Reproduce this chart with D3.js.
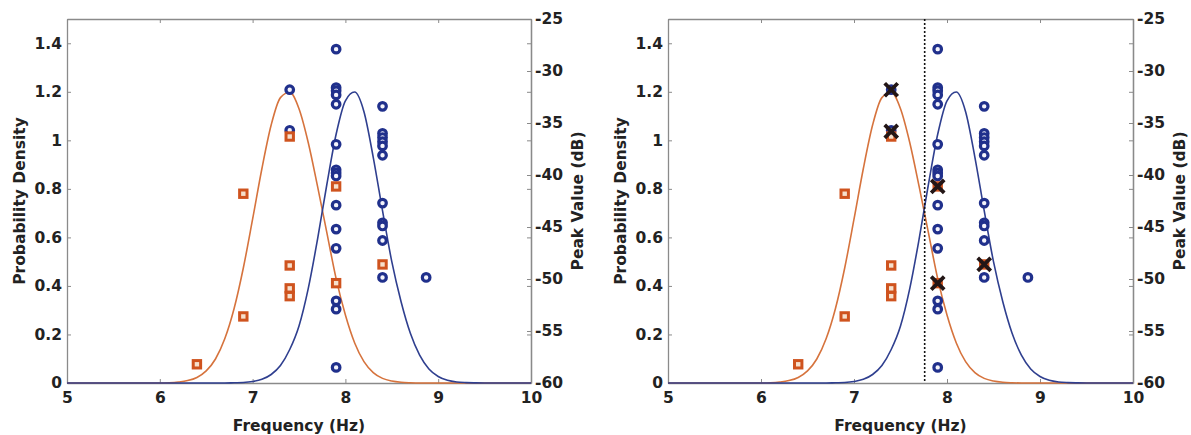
<!DOCTYPE html>
<html>
<head>
<meta charset="utf-8">
<script src="https://cdn.jsdelivr.net/npm/d3@7"></script>
<style>
  html, body { margin: 0; padding: 0; background: #fff; }
  svg { display: block; }
  text { font-family: "DejaVu Sans", "Liberation Sans", Arial, sans-serif; font-weight: bold; fill: #222; }
</style>
</head>
<body>
<svg id="chart" width="1191" height="435"></svg>
<script>
// ---------- data ----------
const freqTicks = [5, 6, 7, 8, 9, 10];
const densityTicks = [0, 0.2, 0.4, 0.6, 0.8, 1.0, 1.2, 1.4];
const densityLabels = ["0", "0.2", "0.4", "0.6", "0.8", "1", "1.2", "1.4"];
const peakTicks = [-25, -30, -35, -40, -45, -50, -55, -60];
const peakLabels = ["-25", "-30", "-35", "-40", "-45", "-50", "-55", "-60"];

// fitted density curves
const curveFreq = [5.0, 5.5, 6.0, 6.1, 6.2, 6.3, 6.4, 6.5, 6.6, 6.7, 6.8, 6.9, 7.0, 7.1, 7.2, 7.3, 7.4, 7.5, 7.6, 7.7, 7.8, 7.9, 8.0, 8.1, 8.2, 8.3, 8.4, 8.5, 8.6, 8.7, 8.8, 8.9, 9.0, 9.1, 9.2, 9.3, 9.4, 9.5, 10.0];
const orangeDensity = [0, 0, 0, 0.001, 0.004, 0.010, 0.023, 0.050, 0.099, 0.182, 0.306, 0.474, 0.675, 0.883, 1.063, 1.176, 1.198, 1.13, 0.99, 0.81, 0.62, 0.43, 0.28, 0.165, 0.088, 0.043, 0.019, 0.008, 0.003, 0.001, 0, 0, 0, 0, 0, 0, 0, 0, 0];
const blueDensity = [0, 0, 0, 0, 0, 0, 0, 0, 0, 0, 0.001, 0.002, 0.006, 0.015, 0.035, 0.072, 0.138, 0.235, 0.39, 0.593, 0.818, 1.025, 1.163, 1.199, 1.118, 0.93, 0.71, 0.50, 0.335, 0.205, 0.115, 0.058, 0.027, 0.011, 0.004, 0.0015, 0.0005, 0, 0];

// scatter: blue circles (frequency, peak dB)
const circleFreq = [7.4, 7.4,
  7.9, 7.9, 7.9, 7.9, 7.9, 7.9, 7.9, 7.9, 7.9, 7.9, 7.9, 7.9, 7.9, 7.9, 7.9,
  8.4, 8.4, 8.4, 8.4, 8.4, 8.4, 8.4, 8.4, 8.4, 8.4, 8.4,
  8.87];
const circlePeak = [-31.8, -35.7,
  -27.9, -31.6, -31.9, -32.3, -33.2, -37.05, -39.5, -39.8, -40.1, -42.9, -45.2, -47.05, -52.1, -52.9, -58.5,
  -33.4, -36.0, -36.4, -36.8, -37.2, -38.1, -42.7, -44.6, -44.9, -46.3, -49.85,
  -49.85];
// scatter: orange squares
const squareFreq = [6.4, 6.9, 6.9, 7.4, 7.4, 7.4, 7.4, 7.9, 7.9, 8.4];
const squarePeak = [-58.2, -41.8, -53.6, -36.3, -48.7, -50.9, -51.65, -41.1, -50.4, -48.6];
// crosses (right panel only)
const crossFreq = [7.4, 7.4, 7.9, 7.9, 8.4];
const crossPeak = [-31.8, -35.8, -41.1, -50.4, -48.6];
// decision threshold (right panel)
const thresholdFreq = 7.76;

// ---------- drawing ----------
const svg = d3.select("#chart");
const plotTop = 19, plotBottom = 383;
const panels = [
  { left: 67, right: 531, threshold: false },
  { left: 668, right: 1133, threshold: true }
];
const axisColor = "#8a8a8a";
const fontSize = "15.5px";

panels.forEach(p => {
  const g = svg.append("g");
  const x = d3.scaleLinear().domain([5, 10]).range([p.left, p.right]);
  const yL = d3.scaleLinear().domain([0, 1.5]).range([plotBottom, plotTop]);
  const yR = d3.scaleLinear().domain([-60, -25]).range([plotBottom, plotTop]);

  // mirrored ticks (top and right for left axis)
  const gTop = g.append("g").attr("transform", `translate(0,${plotTop})`)
    .call(d3.axisTop(x).tickValues(freqTicks).tickSize(-4).tickSizeOuter(0).tickFormat(""));
  const gRightMirror = g.append("g").attr("transform", `translate(${p.right},0)`)
    .call(d3.axisRight(yL).tickValues(densityTicks).tickSize(-4).tickSizeOuter(0).tickFormat(""));

  const gBottom = g.append("g").attr("transform", `translate(0,${plotBottom})`)
    .call(d3.axisBottom(x).tickValues(freqTicks).tickSize(-4).tickSizeOuter(0)
      .tickPadding(9).tickFormat(d => String(d)));
  const gLeft = g.append("g").attr("transform", `translate(${p.left},0)`)
    .call(d3.axisLeft(yL).tickValues(densityTicks).tickSize(-4).tickSizeOuter(0)
      .tickPadding(5).tickFormat((d, i) => densityLabels[i]));
  const gRight = g.append("g").attr("transform", `translate(${p.right},0)`)
    .call(d3.axisRight(yR).tickValues(peakTicks).tickSize(-4).tickSizeOuter(0)
      .tickPadding(4).tickFormat((d, i) => peakLabels[i]));

  [gTop, gRightMirror, gBottom, gLeft, gRight].forEach(a => {
    a.selectAll("path.domain").attr("stroke", axisColor).attr("stroke-width", 1.3);
    a.selectAll(".tick line").attr("stroke", axisColor).attr("stroke-width", 1);
    a.selectAll("text").style("font-size", fontSize).attr("fill", "#1e1e1e");
  });
  gBottom.selectAll("text").attr("dy", "0.71em");

  // curves
  const line = d3.line().x((d, i) => x(curveFreq[i])).y(d => yL(d)).curve(d3.curveMonotoneX);
  g.append("path").datum(orangeDensity).attr("d", line)
    .attr("fill", "none").attr("stroke", "#d6733d").attr("stroke-width", 1.6);
  g.append("path").datum(blueDensity).attr("d", line)
    .attr("fill", "none").attr("stroke", "#2f3f8f").attr("stroke-width", 1.6);

  // threshold
  if (p.threshold) {
    g.append("line")
      .attr("x1", x(thresholdFreq)).attr("x2", x(thresholdFreq))
      .attr("y1", yL(1.5)).attr("y2", yL(0))
      .attr("stroke", "#111").attr("stroke-width", 1.6).attr("stroke-dasharray", "2,2");
  }

  // circles
  g.append("g").selectAll("circle").data(circleFreq).join("circle")
    .attr("cx", d => x(d)).attr("cy", (d, i) => yR(circlePeak[i]))
    .attr("r", 3.8).attr("fill", "#f4f4fb").attr("stroke", "#20308c").attr("stroke-width", 3.2);

  // squares
  g.append("g").selectAll("rect").data(squareFreq).join("rect")
    .attr("x", d => x(d) - 3.7).attr("y", (d, i) => yR(squarePeak[i]) - 3.7)
    .attr("width", 7.4).attr("height", 7.4)
    .attr("fill", "#f6e0cc").attr("stroke", "#cf531e").attr("stroke-width", 3);

  // crosses
  if (p.threshold) {
    const s = 6.5;
    g.append("g").selectAll("path").data(crossFreq).join("path")
      .attr("d", (d, i) => {
        const cx = x(d), cy = yR(crossPeak[i]);
        return `M${cx - s},${cy - s}L${cx + s},${cy + s}M${cx - s},${cy + s}L${cx + s},${cy - s}`;
      })
      .attr("stroke", "#231616").attr("stroke-width", 3.8).attr("fill", "none");
  }

  // axis titles
  const cy = (plotTop + plotBottom) / 2;
  g.append("text").attr("transform", `translate(${p.left - 47},${cy}) rotate(-90)`)
    .attr("text-anchor", "middle").attr("dy", "0.35em").style("font-size", fontSize).text("Probability Density");
  g.append("text").attr("transform", `translate(${p.right + 47},${cy}) rotate(-90)`)
    .attr("text-anchor", "middle").attr("dy", "0.35em").style("font-size", fontSize).text("Peak Value (dB)");
  g.append("text").attr("x", (p.left + p.right) / 2).attr("y", 431)
    .attr("text-anchor", "middle").style("font-size", fontSize).text("Frequency (Hz)");
});
</script>
</body>
</html>
